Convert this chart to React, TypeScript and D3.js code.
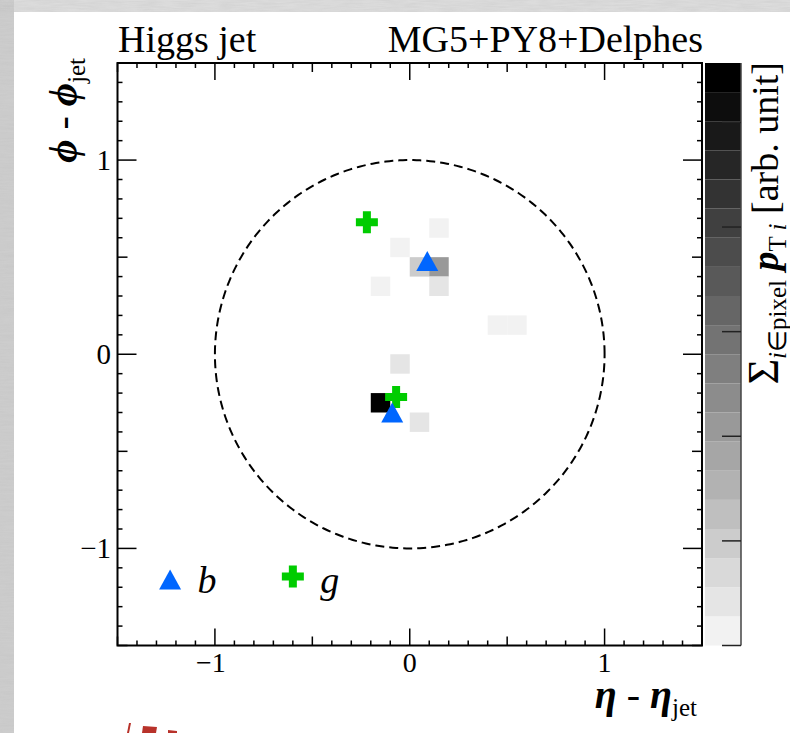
import React from "react";
import * as d3 from "d3";

// ---- data ----
const cellEta = [0.1, -0.1, 0.0, 0.1, 0.1, -0.2, 0.4, 0.5, -0.1, -0.2, 0.0]; // lower edges
const cellPhi = [0.6, 0.5, 0.4, 0.4, 0.3, 0.3, 0.1, 0.1, -0.1, -0.3, -0.4]; // lower edges
const cellPt = [0.12, 0.12, 0.95, 2.05, 0.4, 0.12, 0.12, 0.12, 0.4, 5.45, 0.4];
const cellSize = 0.1;

const bEta = [0.09, -0.09];
const bPhi = [0.48, -0.3];
const gEta = [-0.22, -0.07];
const gPhi = [0.68, -0.22];

const axisTicks = [-1, 0, 1];
const zMax = 5.568;
const zTicks = [0, 1, 2, 3, 4, 5];
const nLevels = 20;

const FONT = "'Liberation Serif', 'Times New Roman', serif";

function trianglePath(cx: number, cy: number, w: number, h: number) {
  return `M${cx},${cy - h / 2}L${cx + w / 2},${cy + h / 2}L${cx - w / 2},${cy + h / 2}Z`;
}
function crossPath(cx: number, cy: number, s: number, t: number) {
  const a = s / 2, b = t / 2;
  return `M${cx - b},${cy - a}H${cx + b}V${cy - b}H${cx + a}V${cy + b}H${cx + b}V${cy + a}H${cx - b}V${cy + b}H${cx - a}V${cy - b}H${cx - b}Z`;
}

export default function App() {
  const W = 790, H = 733;
  const x = d3.scaleLinear().domain([-1.5, 1.5]).range([117.5, 702]);
  const y = d3.scaleLinear().domain([-1.5, 1.5]).range([645.5, 63]);
  const z = d3.scaleLinear().domain([0, zMax]).range([645.5, 63]);
  const levelGray = (k: number) => Math.round(242 - (k * 242) / (nLevels - 1));
  const colorOf = (v: number) => {
    const k = Math.max(0, Math.min(nLevels - 1, Math.floor((v / zMax) * nLevels)));
    const g = levelGray(k);
    return d3.rgb(g, g, g).toString();
  };

  const minor = d3.range(-15, 16).map((i) => ({ v: i / 10, kind: i % 10 === 0 ? 2 : i % 5 === 0 ? 1 : 0 }));
  const xLen = [5, 9, 17];
  const yLen = [5, 10, 19];
  const x0 = x(-1.5), x1 = x(1.5), y0 = y(-1.5), y1 = y(1.5);
  const cbL = 705, cbR = 741;

  const levels = d3.range(nLevels);
  const circle = d3.line<number>()
    .x((t) => x(Math.cos(t)))
    .y((t) => y(Math.sin(t)));
  const circlePts = d3.range(0, 361).map((d) => (d * Math.PI) / 180);

  return (
    <svg width={W} height={H} style={{ position: "absolute", left: 0, top: 0, background: "#fff" }} fontFamily={FONT}>
      <defs>
        <filter id="tex" x="0" y="0" width="100%" height="100%">
          <feTurbulence type="fractalNoise" baseFrequency="0.05 0.6" numOctaves="3" seed="4" />
          <feColorMatrix type="matrix" values="0 0 0 0 0.5  0 0 0 0 0.5  0 0 0 0 0.5  0 0 0 1.2 -0.3" />
        </filter>
      </defs>
      <rect x={0} y={0} width={W} height={H} fill="#fff" />
      {/* textured backdrop strips */}
      <rect x={0} y={0} width={W} height={12} fill="#dcdcdc" />
      <rect x={0} y={0} width={14} height={H} fill="#cdcdcd" />
      <rect x={0} y={0} width={W} height={12} filter="url(#tex)" opacity={0.35} />
      <rect x={0} y={0} width={14} height={H} filter="url(#tex)" opacity={0.35} />

      {/* header */}
      <text x={118} y={52} fontSize={38}>Higgs jet</text>
      <text x={703} y={52} fontSize={38} textAnchor="end">MG5+PY8+Delphes</text>

      {/* heat map cells */}
      {cellEta.map((e, i) => (
        <rect key={"c" + i} x={x(e)} y={y(cellPhi[i] + cellSize)} width={x(e + cellSize) - x(e)}
          height={y(cellPhi[i]) - y(cellPhi[i] + cellSize)} fill={colorOf(cellPt[i])} />
      ))}

      {/* dashed circle R=1 */}
      <path d={circle(circlePts) || ""} fill="none" stroke="#000" strokeWidth={2} strokeDasharray="9 5" />

      {/* markers */}
      {gEta.map((e, i) => (
        <path key={"g" + i} d={crossPath(x(e), y(gPhi[i]), 22, 8)} fill="#00cc00" />
      ))}
      {bEta.map((e, i) => (
        <path key={"b" + i} d={trianglePath(x(e), y(bPhi[i]), 22, 20)} fill="#0066ff" />
      ))}

      {/* legend */}
      <path d={trianglePath(x(-1.23), y(-1.16), 22, 20)} fill="#0066ff" />
      <text x={x(-1.09)} y={y(-1.16) + 14} fontSize={38} fontStyle="italic">b</text>
      <path d={crossPath(x(-0.6), y(-1.145), 22, 8)} fill="#00cc00" />
      <text x={x(-0.46)} y={y(-1.16) + 14} fontSize={38} fontStyle="italic">g</text>

      {/* ticks */}
      {minor.map((t, i) => (
        <g key={"t" + i} stroke="#000" strokeWidth={1.5}>
          <line x1={x(t.v)} x2={x(t.v)} y1={y0} y2={y0 - xLen[t.kind]} />
          <line x1={x(t.v)} x2={x(t.v)} y1={y1} y2={y1 + xLen[t.kind]} />
          <line x1={x0} x2={x0 + yLen[t.kind]} y1={y(t.v)} y2={y(t.v)} />
          <line x1={x1} x2={x1 - yLen[t.kind]} y1={y(t.v)} y2={y(t.v)} />
        </g>
      ))}
      {/* frame */}
      <rect x={x0} y={y1} width={x1 - x0} height={y0 - y1} fill="none" stroke="#000" strokeWidth={2} />

      {/* tick labels */}
      {axisTicks.map((v) => (
        <text key={"xl" + v} x={x(v) - (v < 0 ? 4 : 0)} y={672} fontSize={28} textAnchor="middle">
          {v < 0 ? "\u2212" + Math.abs(v) : v}
        </text>
      ))}
      {axisTicks.map((v) => (
        <text key={"yl" + v} x={111} y={y(v) + 10} fontSize={29} textAnchor="end">
          {v < 0 ? "\u2212" + Math.abs(v) : v}
        </text>
      ))}

      {/* axis titles */}
      <text x={697} y={708} fontSize={40} textAnchor="end">
        <tspan fontWeight="bold" fontStyle="italic">η</tspan>
        <tspan> - </tspan>
        <tspan fontWeight="bold" fontStyle="italic">η</tspan>
        <tspan fontSize={25} dy={8}>jet</tspan>
      </text>
      <text transform="translate(76,58) rotate(-90)" fontSize={40} textAnchor="end">
        <tspan fontWeight="bold" fontStyle="italic">ϕ</tspan>
        <tspan> - </tspan>
        <tspan fontWeight="bold" fontStyle="italic">ϕ</tspan>
        <tspan fontSize={25} dy={9}>jet</tspan>
      </text>

      {/* colour bar */}
      {levels.map((k) => {
        const g = levelGray(k);
        return (
          <rect key={"cb" + k} x={cbL} width={cbR - cbL}
            y={z(((k + 1) * zMax) / nLevels)} height={z((k * zMax) / nLevels) - z(((k + 1) * zMax) / nLevels)}
            fill={d3.rgb(g, g, g).toString()} />
        );
      })}
      <line x1={cbR} x2={cbR} y1={z(0)} y2={z(zMax)} stroke="#444" strokeWidth={1.5} />
      {zTicks.map((v) => (
        <line key={"zt" + v} x1={cbR} x2={cbR - 19} y1={z(v)} y2={z(v)} stroke="#222" strokeWidth={1.5} />
      ))}
      <text transform="translate(778,62) rotate(-90)" fontSize={38} textAnchor="end">
        <tspan fontSize={44}>Σ</tspan>
        <tspan fontSize={25} fontStyle="italic" dy={8}>i</tspan>
        <tspan fontSize={25}>∈pixel</tspan>
        <tspan dy={-8}> </tspan>
        <tspan fontWeight="bold" fontStyle="italic">p</tspan>
        <tspan fontSize={25} dy={8}>T </tspan>
        <tspan fontSize={25} fontStyle="italic">i</tspan>
        <tspan dy={-8}> [arb. unit]</tspan>
      </text>

      {/* partial red logo at bottom edge */}
      <g fill="#b8322a">
        <path d="M129,723 L131,723 L129,733 L127,733 Z" />
        <path d="M143,726 L157,727 L156,733 L142,733 Z" />
        <path d="M168,730 L177,731 L177,733 L168,733 Z" />
      </g>
    </svg>
  );
}
